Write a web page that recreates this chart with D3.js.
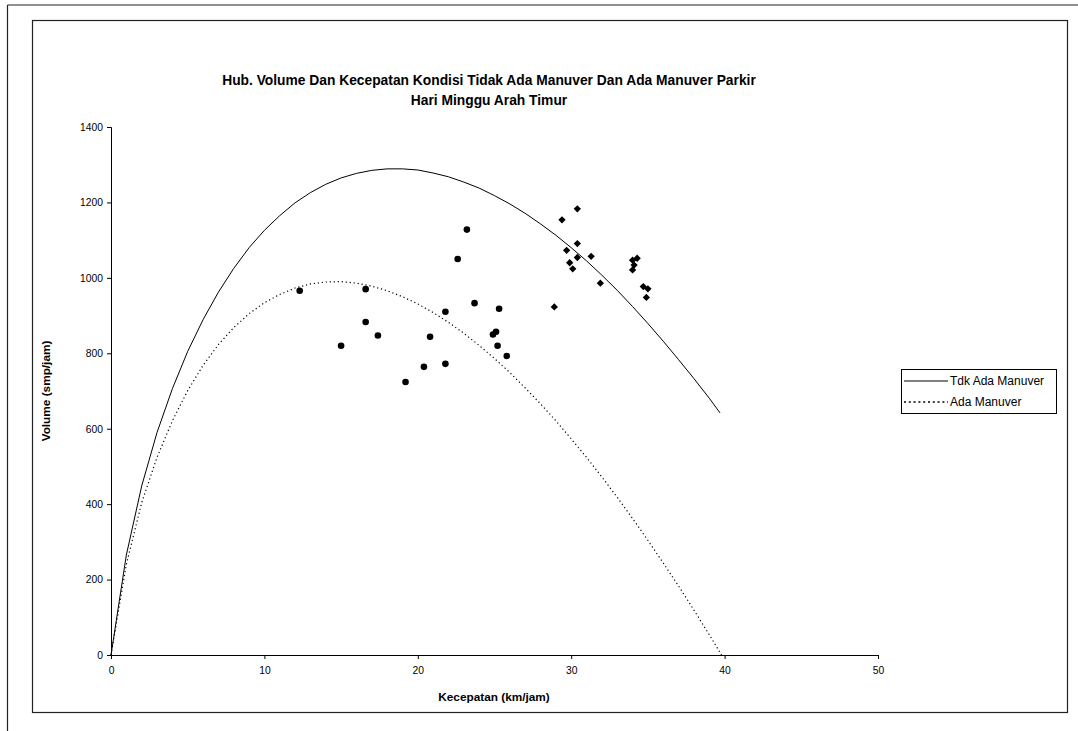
<!DOCTYPE html>
<html>
<head>
<meta charset="utf-8">
<script src="https://cdn.jsdelivr.net/npm/d3@7"></script>
<style>
  html, body { margin: 0; padding: 0; background: #fff; }
  svg { display: block; font-family: "Liberation Sans", Arial, sans-serif; }
</style>
</head>
<body>
<svg id="chart" width="1078" height="731"></svg>
<script>
// ---------- DATA ----------
const titleLines = ["Hub. Volume Dan Kecepatan Kondisi Tidak Ada Manuver Dan Ada Manuver Parkir", "Hari Minggu Arah Timur"];
const xTitle = "Kecepatan (km/jam)";
const yTitle = "Volume (smp/jam)";
const xTicks = [0, 10, 20, 30, 40, 50];
const yTicks = [0, 200, 400, 600, 800, 1000, 1200, 1400];
const seriesNames = ["Tdk Ada Manuver", "Ada Manuver"];

// Observed points, no manoeuvre (diamonds): speed, volume
const tdkSpeed  = [30.4, 29.4, 30.4, 29.7, 30.4, 31.3, 29.9, 30.1, 31.9, 28.9, 34.0, 34.3, 34.1, 34.0, 34.7, 35.0, 34.9];
const tdkVolume = [1183, 1154, 1091, 1073, 1054, 1057, 1040, 1024, 986, 923, 1047, 1052, 1034, 1021, 977, 971, 948];

// Observed points, with manoeuvre (circles): speed, volume
const adaSpeed  = [12.3, 16.6, 15.0, 16.6, 17.4, 19.2, 20.4, 20.8, 21.8, 21.8, 22.6, 23.2, 23.7, 24.9, 25.1, 25.3, 25.2, 25.8];
const adaVolume = [966, 970, 820, 883, 847, 724, 764, 844, 910, 772, 1050, 1128, 933, 850, 857, 918, 820, 793];

// Fitted curve, no manoeuvre (solid line)
const tdkCurveSpeed  = [0, 1, 2, 3, 4, 5, 6, 7, 8, 9, 10, 11, 12, 13, 14, 15, 16, 17, 18, 19, 20, 21, 22, 23, 24, 25, 26, 27, 28, 29, 30, 31, 32, 33, 34, 35, 36, 37, 38, 39, 39.7];
const tdkCurveVolume = [0, 265, 448, 590, 706, 805, 889, 962, 1025, 1080, 1126, 1165, 1199, 1226, 1248, 1265, 1277, 1285, 1289, 1289, 1286, 1278, 1268, 1254, 1238, 1218, 1196, 1171, 1143, 1113, 1080, 1045, 1007, 967, 924, 879, 832, 783, 733, 681, 642];

// Fitted curve, with manoeuvre (dotted line)
const adaCurveSpeed  = [0, 1, 2, 3, 4, 5, 6, 7, 8, 9, 10, 11, 12, 13, 14, 15, 16, 17, 18, 19, 20, 21, 22, 23, 24, 25, 26, 27, 28, 29, 30, 31, 32, 33, 34, 35, 36, 37, 38, 39, 39.8];
const adaCurveVolume = [0, 240, 404, 524, 621, 701, 768, 823, 868, 905, 934, 956, 973, 984, 989, 990, 986, 978, 966, 950, 931, 908, 882, 853, 821, 786, 749, 708, 666, 621, 573, 524, 472, 418, 362, 304, 244, 183, 119, 54, 0];

// ---------- LAYOUT ----------
const svg = d3.select("#chart");
const plot = { left: 111, right: 878, top: 127, bottom: 655 };

// outer sheet frame lines
svg.append("line").attr("x1", 7.5).attr("y1", 5).attr("x2", 1078).attr("y2", 5)
  .attr("stroke", "#222").attr("stroke-width", 1.2);
svg.append("line").attr("x1", 7.5).attr("y1", 5).attr("x2", 7.5).attr("y2", 731)
  .attr("stroke", "#222").attr("stroke-width", 1.2);

// chart area border
svg.append("rect").attr("x", 32.5).attr("y", 20.5).attr("width", 1035).attr("height", 692)
  .attr("fill", "#fff").attr("stroke", "#222").attr("stroke-width", 1.2);

const x = d3.scaleLinear().domain([0, 50]).range([plot.left, plot.right]);
const y = d3.scaleLinear().domain([0, 1400]).range([plot.bottom, plot.top]);

// title
svg.append("g").selectAll("text").data(titleLines).join("text")
  .attr("x", 489).attr("y", (d, i) => 85 + i * 19.5)
  .attr("text-anchor", "middle").attr("font-size", 13.8).attr("font-weight", "bold")
  .attr("fill", "#000").text(d => d);

// axes
const xAxis = svg.append("g").attr("transform", `translate(0,${plot.bottom})`)
  .call(d3.axisBottom(x).tickValues(xTicks).tickSize(4).tickPadding(8).tickFormat(d3.format("d")));
const yAxis = svg.append("g").attr("transform", `translate(${plot.left},0)`)
  .call(d3.axisLeft(y).tickValues(yTicks).tickSize(4).tickPadding(4).tickFormat(d3.format("d")));
[xAxis, yAxis].forEach(g => {
  g.select(".domain").attr("stroke", "#000").attr("stroke-width", 1);
  g.selectAll(".tick line").attr("stroke", "#000");
  g.selectAll(".tick text").attr("font-size", 10.3).attr("fill", "#000")
    .attr("font-family", "'Liberation Sans', Arial, sans-serif");
});

// axis titles
svg.append("text").attr("x", 494).attr("y", 701).attr("text-anchor", "middle")
  .attr("font-size", 11.8).attr("font-weight", "bold").text(xTitle);
svg.append("text").attr("transform", "translate(50,391) rotate(-90)").attr("text-anchor", "middle")
  .attr("font-size", 11.8).attr("font-weight", "bold").text(yTitle);

// curves
const line = d3.line().x(d => x(d[0])).y(d => y(d[1]));
const tdkCurve = d3.zip(tdkCurveSpeed, tdkCurveVolume);
const adaCurve = d3.zip(adaCurveSpeed, adaCurveVolume);
svg.append("path").datum(tdkCurve).attr("d", line)
  .attr("fill", "none").attr("stroke", "#000").attr("stroke-width", 1);
svg.append("path").datum(adaCurve).attr("d", line)
  .attr("fill", "none").attr("stroke", "#000").attr("stroke-width", 1.2)
  .attr("stroke-dasharray", "1.2,2.8");

// markers
const tdkPts = d3.zip(tdkSpeed, tdkVolume);
const adaPts = d3.zip(adaSpeed, adaVolume);
svg.append("g").selectAll("path").data(tdkPts).join("path")
  .attr("transform", d => `translate(${x(d[0])},${y(d[1])})`)
  .attr("d", d3.symbol(d3.symbolDiamond2, 34)())
  .attr("fill", "#000");
svg.append("g").selectAll("circle").data(adaPts).join("circle")
  .attr("cx", d => x(d[0])).attr("cy", d => y(d[1])).attr("r", 3.3)
  .attr("fill", "#000");

// legend
const lg = svg.append("g").attr("transform", "translate(901,369)");
lg.append("rect").attr("x", 0.5).attr("y", 0.5).attr("width", 155).attr("height", 44)
  .attr("fill", "#fff").attr("stroke", "#000").attr("stroke-width", 1);
const legendItems = [
  { name: seriesNames[0], dash: null, w: 1 },
  { name: seriesNames[1], dash: "2,2.8", w: 1.6 }
];
legendItems.forEach((it, i) => {
  const yy = 12 + i * 21;
  lg.append("line").attr("x1", 3).attr("x2", 47).attr("y1", yy).attr("y2", yy)
    .attr("stroke", "#000").attr("stroke-width", it.w)
    .attr("stroke-dasharray", it.dash);
  lg.append("text").attr("x", 49).attr("y", yy + 4).attr("font-size", 12).text(it.name);
});
</script>
</body>
</html>
